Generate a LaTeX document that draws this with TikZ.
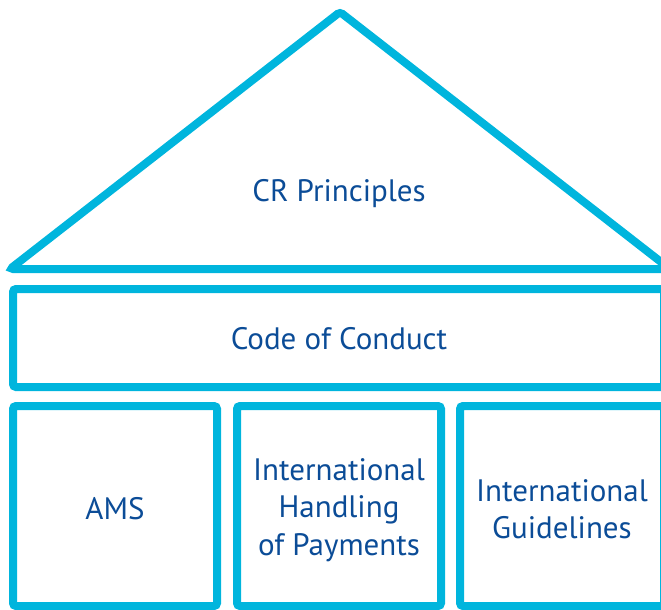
\documentclass[tikz,border=0pt]{standalone}
\usepackage{fontspec}
\setmainfont{PT Sans}
\definecolor{framecol}{HTML}{00B5DD}
\definecolor{inkcol}{HTML}{0B4C97}
\begin{document}
\begin{tikzpicture}[x=1pt,y=-1pt,
  frame/.style={draw=framecol, line width=8pt, rounded corners=3pt},
  label/.style={text=inkcol, font=\fontsize{31}{37.5}\selectfont, align=center, inner sep=0pt},
  pillar/.style={frame, minimum width=204pt, minimum height=200pt}]
\useasboundingbox (0,0) rectangle (661,610);
\clip (0,0) rectangle (661,610);
\draw[frame] (10,269) -- (340,12) -- (670,269) -- cycle;
\node[label] (cr) at (339,194) {CR Principles};
\node[frame, minimum width=651pt, minimum height=98pt] (coc) at (338.5,338) {};
\node[label] (coctext) at (339,339) {Code of Conduct};
\node[pillar] (ams) at (115,506) {};
\node[pillar] (ihp) at (339,506) {};
\node[pillar] (ig) at (562,506) {};
\node[label] (amstext) at (115,509) {AMS};
\node[label] (ihptext) at (339,510) {International\\Handling\\of Payments};
\node[label] (igtext) at (562,509) {International\\Guidelines};
\end{tikzpicture}
\end{document}
